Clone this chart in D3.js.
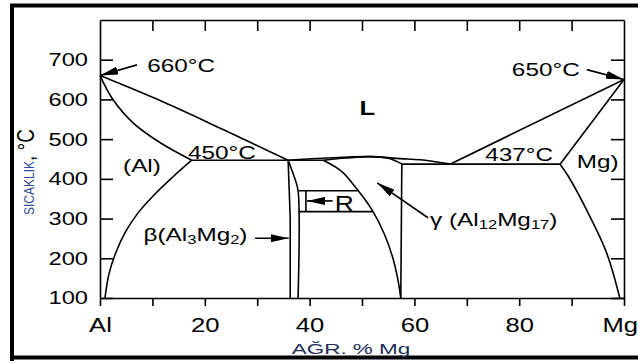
<!DOCTYPE html>
<html>
<head>
<meta charset="utf-8">
<script src="https://cdn.jsdelivr.net/npm/d3@7"></script>
<style>
  html, body { margin: 0; padding: 0; background: #fff; }
  svg { display: block; }
  text { font-family: "Liberation Sans", Arial, Helvetica, sans-serif; }
</style>
</head>
<body>
<svg id="chart" width="638" height="363"></svg>
<script>
// phase boundaries, [wt% Mg, temperature °C]
const alLiquidus = [[0, 660], [12, 594], [24, 521], [35.9, 447]];
const alSolidus = [[0, 660], [2.5, 599], [6.3, 541], [11.5, 491], [17.5, 447]];
const alSolvus = [[17.5, 447], [14, 406], [10.5, 362], [7.3, 315], [4.8, 265], [2.9, 210], [1.7, 160], [0.95, 100]];
const eutecticLeft = [[17.5, 447], [42.6, 447]];
const betaLeft = [[35.9, 447], [36.3, 300], [36.3, 100]];
const betaRight = [[35.9, 447], [37.2, 400], [37.8, 370], [37.8, 100]];
const domeLiquidus = [[35.9, 447], [42.6, 452], [51.5, 456], [57.3, 451], [61.1, 448], [66.8, 437]];
const gammaSolidus = [[42.6, 447], [47, 452.5], [51.5, 456], [55, 452], [57.6, 437.8]];
const gammaLeft = [[42.6, 447], [46, 420], [49, 375], [52, 320], [54.3, 260], [55.9, 200], [56.8, 150], [57.4, 100]];
const gammaRight = [[57.6, 437.8], [57.4, 100]];
const eutecticRight = [[57.6, 437], [87.8, 437]];
const mgLiquidus = [[66.8, 437], [100, 650]];
const mgSolidus = [[87.8, 437], [100, 650]];
const mgSolvus = [[87.8, 437], [89.4, 406], [93.5, 305], [96.7, 213], [99.2, 100]];
const rTop = [[37.8, 370], [49.2, 370]];
const rBottom = [[37.8, 317.5], [52.1, 317.5]];
const rMark = [[39.3, 370], [39.3, 317.5]];

const xTicks = [0, 10, 20, 30, 40, 50, 60, 70, 80, 90, 100];
const xTickLabels = { 0: "Al", 20: "20", 40: "40", 60: "60", 80: "80", 100: "Mg" };
const yTicks = [100, 200, 300, 400, 500, 600, 700];

// labels in the diagram, anchored at [wt% Mg, °C]
const annotations = [
  { parts: [["660°C"]], at: [9.0, 670] },
  { parts: [["650°C"]], at: [78.6, 658] },
  { parts: [["L"]], at: [49.5, 561], bold: true },
  { parts: [["(Al)"]], at: [4.4, 418] },
  { parts: [["450°C"]], at: [16.8, 450] },
  { parts: [["437°C"]], at: [73.5, 445] },
  { parts: [["Mg)"]], at: [91.0, 427] },
  { parts: [["β(Al"], ["3", "sub"], ["Mg"], ["2", "sub"], [")"]], at: [8.3, 244] },
  { parts: [["R"]], at: [44.8, 319], big: true },
  { parts: [["γ (Al"], ["12", "sub"], ["Mg"], ["17", "sub"], [")"]], at: [63.0, 281] }
];
const arrows = [
  [[7.06, 687], [0, 660]],
  [[92.9, 675], [100, 650]],
  [[29.6, 250.5], [36.0, 250.5]],
  [[44.4, 344.5], [39.5, 344.5]],
  [[62.6, 302], [52.9, 390]]
];

const svg = d3.select("#chart");
const sx = 1.28; // text in the picture is stretched sideways

const x = d3.scaleLinear().domain([0, 100]).range([100, 624]);
const y = d3.scaleLinear().domain([100, 800]).range([298, 20]);

svg.append("defs").append("marker")
  .attr("id", "head")
  .attr("viewBox", "0 0 18 8")
  .attr("refX", 18).attr("refY", 4)
  .attr("markerWidth", 18).attr("markerHeight", 8)
  .attr("markerUnits", "userSpaceOnUse")
  .attr("orient", "auto")
  .append("path").attr("d", "M0,0L18,4L0,8Z").attr("fill", "#000");

// outer frame
const frame = svg.append("g").attr("stroke", "#000").attr("stroke-width", 4);
frame.append("line").attr("x1", 12).attr("x2", 12).attr("y1", 4).attr("y2", 361);
frame.append("line").attr("x1", 10).attr("x2", 638).attr("y1", 5.5).attr("y2", 5.5);
frame.append("line").attr("x1", 10).attr("x2", 638).attr("y1", 357.5).attr("y2", 357.5);

function styleAxis(g) {
  g.attr("font-family", null).attr("font-size", null);
  g.select(".domain").attr("stroke", "#000").attr("stroke-width", 1.6);
  g.selectAll(".tick line").attr("stroke", "#000").attr("stroke-width", 1.6);
}

svg.append("g")
  .attr("transform", `translate(0,${y(100)})`)
  .call(d3.axisBottom(x).tickValues(xTicks).tickSize(8).tickSizeOuter(0).tickPadding(12)
    .tickFormat(d => xTickLabels[d] || ""))
  .call(styleAxis)
  .call(g => g.selectAll("text").attr("font-size", 20).attr("fill", "#000")
    .attr("transform", `scale(${sx},1)`))
  .call(g => g.selectAll(".tick").filter(d => d === 100).select("text")
    .attr("text-anchor", "end").attr("x", 13.5 / sx));

svg.append("g")
  .attr("transform", `translate(0,${y(800)})`)
  .call(d3.axisTop(x).tickValues(xTicks.slice(1, -1)).tickSize(-11).tickSizeOuter(0).tickFormat(""))
  .call(styleAxis);

svg.append("g")
  .attr("transform", `translate(${x(0)},0)`)
  .call(d3.axisLeft(y).tickValues(yTicks).tickSize(-13).tickSizeOuter(0).tickPadding(12))
  .call(styleAxis)
  .call(g => g.selectAll("text").attr("font-size", 18.5).attr("fill", "#000")
    .attr("x", -12 / sx).attr("transform", `scale(${sx},1)`));

svg.append("g")
  .attr("transform", `translate(${x(100)},0)`)
  .call(d3.axisRight(y).tickValues(yTicks).tickSize(-13).tickSizeOuter(0).tickFormat(""))
  .call(styleAxis);

// axis titles
svg.append("text")
  .attr("transform", `translate(351,354) scale(1.5,1)`)
  .attr("text-anchor", "middle")
  .attr("font-size", 15)
  .attr("fill", "#22305a")
  .text("AĞR. % Mg");

const yTitle = svg.append("text")
  .attr("transform", "translate(34,215) rotate(-90) scale(1,1.25)");
yTitle.append("tspan").attr("font-size", 12).attr("fill", "#2f4d96").text("SICAKLIK");
yTitle.append("tspan").attr("font-size", 19).attr("fill", "#000").text(", °C");

// phase boundaries
const smooth = d3.line().x(d => x(d[0])).y(d => y(d[1])).curve(d3.curveCatmullRom.alpha(0.5));
const straight = d3.line().x(d => x(d[0])).y(d => y(d[1]));

const curves = [alLiquidus, alSolidus, alSolvus, betaRight, domeLiquidus, gammaSolidus, gammaLeft, mgSolvus];
const lines = [eutecticLeft, betaLeft, gammaRight, eutecticRight, mgLiquidus, mgSolidus, rTop, rBottom, rMark];

const bounds = svg.append("g").attr("fill", "none").attr("stroke", "#000").attr("stroke-width", 1.6);
bounds.selectAll("path.curve").data(curves).join("path").attr("class", "curve").attr("d", smooth);
bounds.selectAll("path.straight").data(lines).join("path").attr("class", "straight").attr("d", straight);

// arrows
svg.append("g").attr("stroke", "#000").attr("stroke-width", 1.6)
  .selectAll("line").data(arrows).join("line")
  .attr("x1", d => x(d[0][0])).attr("y1", d => y(d[0][1]))
  .attr("x2", d => x(d[1][0])).attr("y2", d => y(d[1][1]))
  .attr("marker-end", "url(#head)");

// labels
annotations.forEach(a => {
  const fs = a.big ? 22 : (a.bold ? 20 : 19);
  const t = svg.append("text")
    .attr("transform", `translate(${x(a.at[0])},${y(a.at[1])}) scale(${a.big ? 1.2 : sx},1)`)
    .attr("font-size", fs)
    .attr("font-weight", a.bold ? "bold" : null)
    .attr("fill", "#000");
  let shifted = false;
  a.parts.forEach(p => {
    const sp = t.append("tspan").text(p[0]);
    if (p[1] === "sub") {
      sp.attr("font-size", fs * 0.68).attr("dy", shifted ? null : 3);
      shifted = true;
    } else if (shifted) {
      sp.attr("dy", -3);
      shifted = false;
    }
  });
});
</script>
</body>
</html>
